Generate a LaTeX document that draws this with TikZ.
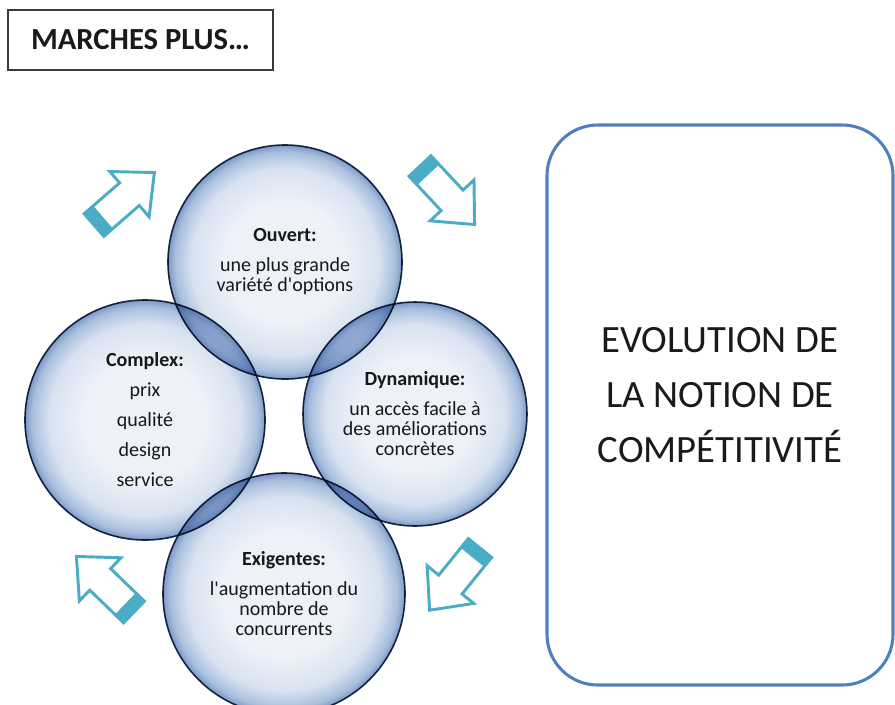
\documentclass[tikz,border=0pt]{standalone}
\usepackage{fontspec}
\setmainfont{Carlito}
\definecolor{bubA}{HTML}{EDF1F8}
\definecolor{bubB}{HTML}{D8E2F0}
\definecolor{bubC}{HTML}{A9BFDE}
\definecolor{bubD}{HTML}{7C99C5}
\definecolor{bubline}{HTML}{1E2D48}
\definecolor{arrowteal}{HTML}{4BACC6}
\definecolor{boxblue}{HTML}{4F7FBD}
\definecolor{titlegray}{HTML}{3A3A3A}
\definecolor{textgray}{HTML}{1A1A1A}
\pgfdeclareradialshading{bubble}{\pgfpoint{0bp}{0bp}}{color(0bp)=(bubA); color(13bp)=(bubA); color(20bp)=(bubB); color(23.5bp)=(bubC); color(25bp)=(bubD); color(50bp)=(bubD)}
\tikzset{
	bubble/.style={circle, draw=bubline, line width=1.2pt, shading=bubble, blend mode=multiply, inner sep=0pt, align=center, text=textgray, font=\fontsize{15}{15}\selectfont},
	cyclearrow/.style={draw=arrowteal, line width=2.2pt, fill=white, line join=miter},
}
\begin{document}
\begin{tikzpicture}[x=0.75pt,y=-0.75pt]
			\useasboundingbox (0,0) rectangle (895,704);
			\node[draw=titlegray, line width=1.2pt, minimum width=198.75pt, minimum height=45pt, text=textgray, font=\bfseries\fontsize{23}{23}\selectfont] (marches) at (140.5,40) {MARCHES PLUS…};
			\draw [cyclearrow, shift={(94,225)}, rotate=41] (0,-15) -- (47,-15) -- (47,-30) -- (80,0) -- (47,30) -- (47,15) -- (0,15) -- cycle;
			\fill [arrowteal, shift={(94,225)}, rotate=41] (0,-15) rectangle (12,15);
			\draw [cyclearrow, shift={(420,166)}, rotate=-47] (0,-15) -- (47,-15) -- (47,-30) -- (80,0) -- (47,30) -- (47,15) -- (0,15) -- cycle;
			\fill [arrowteal, shift={(420,166)}, rotate=-47] (0,-15) rectangle (12,15);
			\draw [cyclearrow, shift={(480,548)}, rotate=-129] (0,-15) -- (47,-15) -- (47,-30) -- (80,0) -- (47,30) -- (47,15) -- (0,15) -- cycle;
			\fill [arrowteal, shift={(480,548)}, rotate=-129] (0,-15) rectangle (12,15);
			\draw [cyclearrow, shift={(134,612)}, rotate=136] (0,-15) -- (47,-15) -- (47,-30) -- (80,0) -- (47,30) -- (47,15) -- (0,15) -- cycle;
			\fill [arrowteal, shift={(134,612)}, rotate=136] (0,-15) rectangle (12,15);
			\node[bubble, minimum size=180pt] (complex) at (145,420) {\textbf{Complex:}\\[7.5pt]prix\\[7.5pt]qualité\\[7.5pt]design\\[7.5pt]service};
			\node[bubble, minimum size=168pt] (dynamique) at (415,414) {\textbf{Dynamique:}\\[7.5pt]un accès facile à\\des améliorations\\concrètes};
			\node[bubble, minimum size=175.5pt] (ouvert) at (285,262) {\textbf{Ouvert:}\\[7.5pt]une plus grande\\variété d\textquotesingle options};
			\node[bubble, minimum size=181.5pt] (exigentes) at (284,594) {\textbf{Exigentes:}\\[7.5pt]l\textquotesingle augmentation du\\nombre de\\concurrents};
			\node[draw=boxblue, line width=2.3pt, rounded corners=38pt, minimum width=259.5pt, minimum height=420pt, text depth=15pt, align=center, text=textgray, font=\fontsize{29}{41}\selectfont] (evolution) at (720,405) {EVOLUTION DE\\LA NOTION DE\\COMPÉTITIVITÉ};
		\end{tikzpicture}
\end{document}
